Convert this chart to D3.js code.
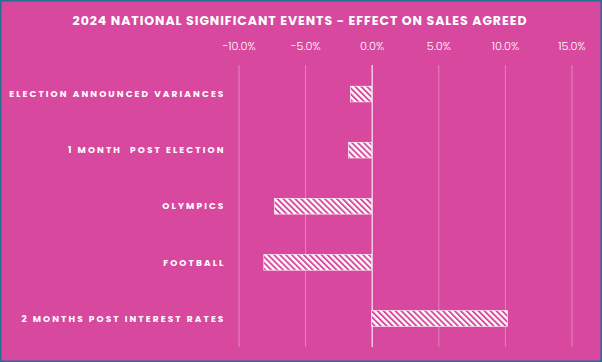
<!DOCTYPE html>
<html><head><meta charset="utf-8">
<script src="https://cdn.jsdelivr.net/npm/d3@7"></script>
<style>
html,body{margin:0;padding:0;background:#d8489f;}
svg{display:block;}
</style></head>
<body>
<script>
const categories = ["ELECTION ANNOUNCED VARIANCES","1 MONTH  POST ELECTION","OLYMPICS","FOOTBALL","2 MONTHS POST INTEREST RATES"];
const values = [-1.6, -1.75, -7.3, -8.1, 10.2];
const tickValues = [-10, -5, 0, 5, 10, 15];
const title = "2024 NATIONAL SIGNIFICANT EVENTS - EFFECT ON SALES AGREED";

const W = 602, H = 362;
const bg = "#d8489f";
const svg = d3.select("body").append("svg").attr("width", W).attr("height", H);

const defs = svg.append("defs");
const pat = defs.append("pattern").attr("id","hatch").attr("patternUnits","userSpaceOnUse")
  .attr("width",4.2).attr("height",4.2).attr("patternTransform","rotate(-45)");
pat.append("rect").attr("width",4.2).attr("height",4.2).attr("fill","#ffffff");
pat.append("rect").attr("x",0).attr("width",1.9).attr("height",4.2).attr("fill",bg);

svg.append("rect").attr("x",0.75).attr("y",0.75).attr("width",W-1.5).attr("height",H-1.5)
  .attr("fill",bg).attr("stroke","#22708e").attr("stroke-width",1.5);

const x = d3.scaleLinear().domain([-10,15]).range([238.5,571.5]);
const y = d3.scaleBand().domain(categories).range([66,346.5]).paddingInner(0.72).paddingOuter(0.36);

svg.append("text").attr("x",300).attr("y",24.5).attr("text-anchor","middle")
  .attr("fill","#ffffff").attr("font-family","Poppins, 'Open Sans', sans-serif").attr("font-weight",700)
  .attr("font-size",12.5).attr("letter-spacing",0.95).text(title);

const ax = svg.append("g").attr("transform","translate(0,65)")
  .call(d3.axisTop(x).tickValues(tickValues).tickSize(-282).tickPadding(15.5)
    .tickFormat(d => d3.format(".1%")(d/100)));
ax.select(".domain").remove();
ax.selectAll(".tick line").attr("stroke", d => d === 0 ? "#f6dcec" : "#e484bd").attr("stroke-width", d => d===0?1.3:1);
ax.selectAll(".tick text").attr("fill","#ffffff").attr("font-family","Poppins, 'Open Sans', sans-serif")
  .attr("font-weight",300).attr("font-size",11.3);

const data = categories.map((c,i)=>({c, v: values[i]}));
svg.append("g").selectAll("rect").data(data).join("rect")
  .attr("x", d => x(Math.min(0,d.v)))
  .attr("width", d => Math.abs(x(d.v)-x(0)))
  .attr("y", d => y(d.c))
  .attr("height", y.bandwidth())
  .attr("fill","url(#hatch)").attr("stroke","#ffffff").attr("stroke-width",0.6);

svg.append("g").selectAll("text").data(categories).join("text")
  .attr("x",225.5).attr("y", d => y(d)+y.bandwidth()/2).attr("dy","0.35em")
  .attr("text-anchor","end").attr("fill","#ffffff")
  .attr("font-family","Poppins, 'Open Sans', sans-serif").attr("font-weight",700)
  .attr("font-size",9).attr("letter-spacing",2.1)
  .attr("xml:space","preserve").style("white-space","pre").text(d=>d);
</script>
</body></html>
